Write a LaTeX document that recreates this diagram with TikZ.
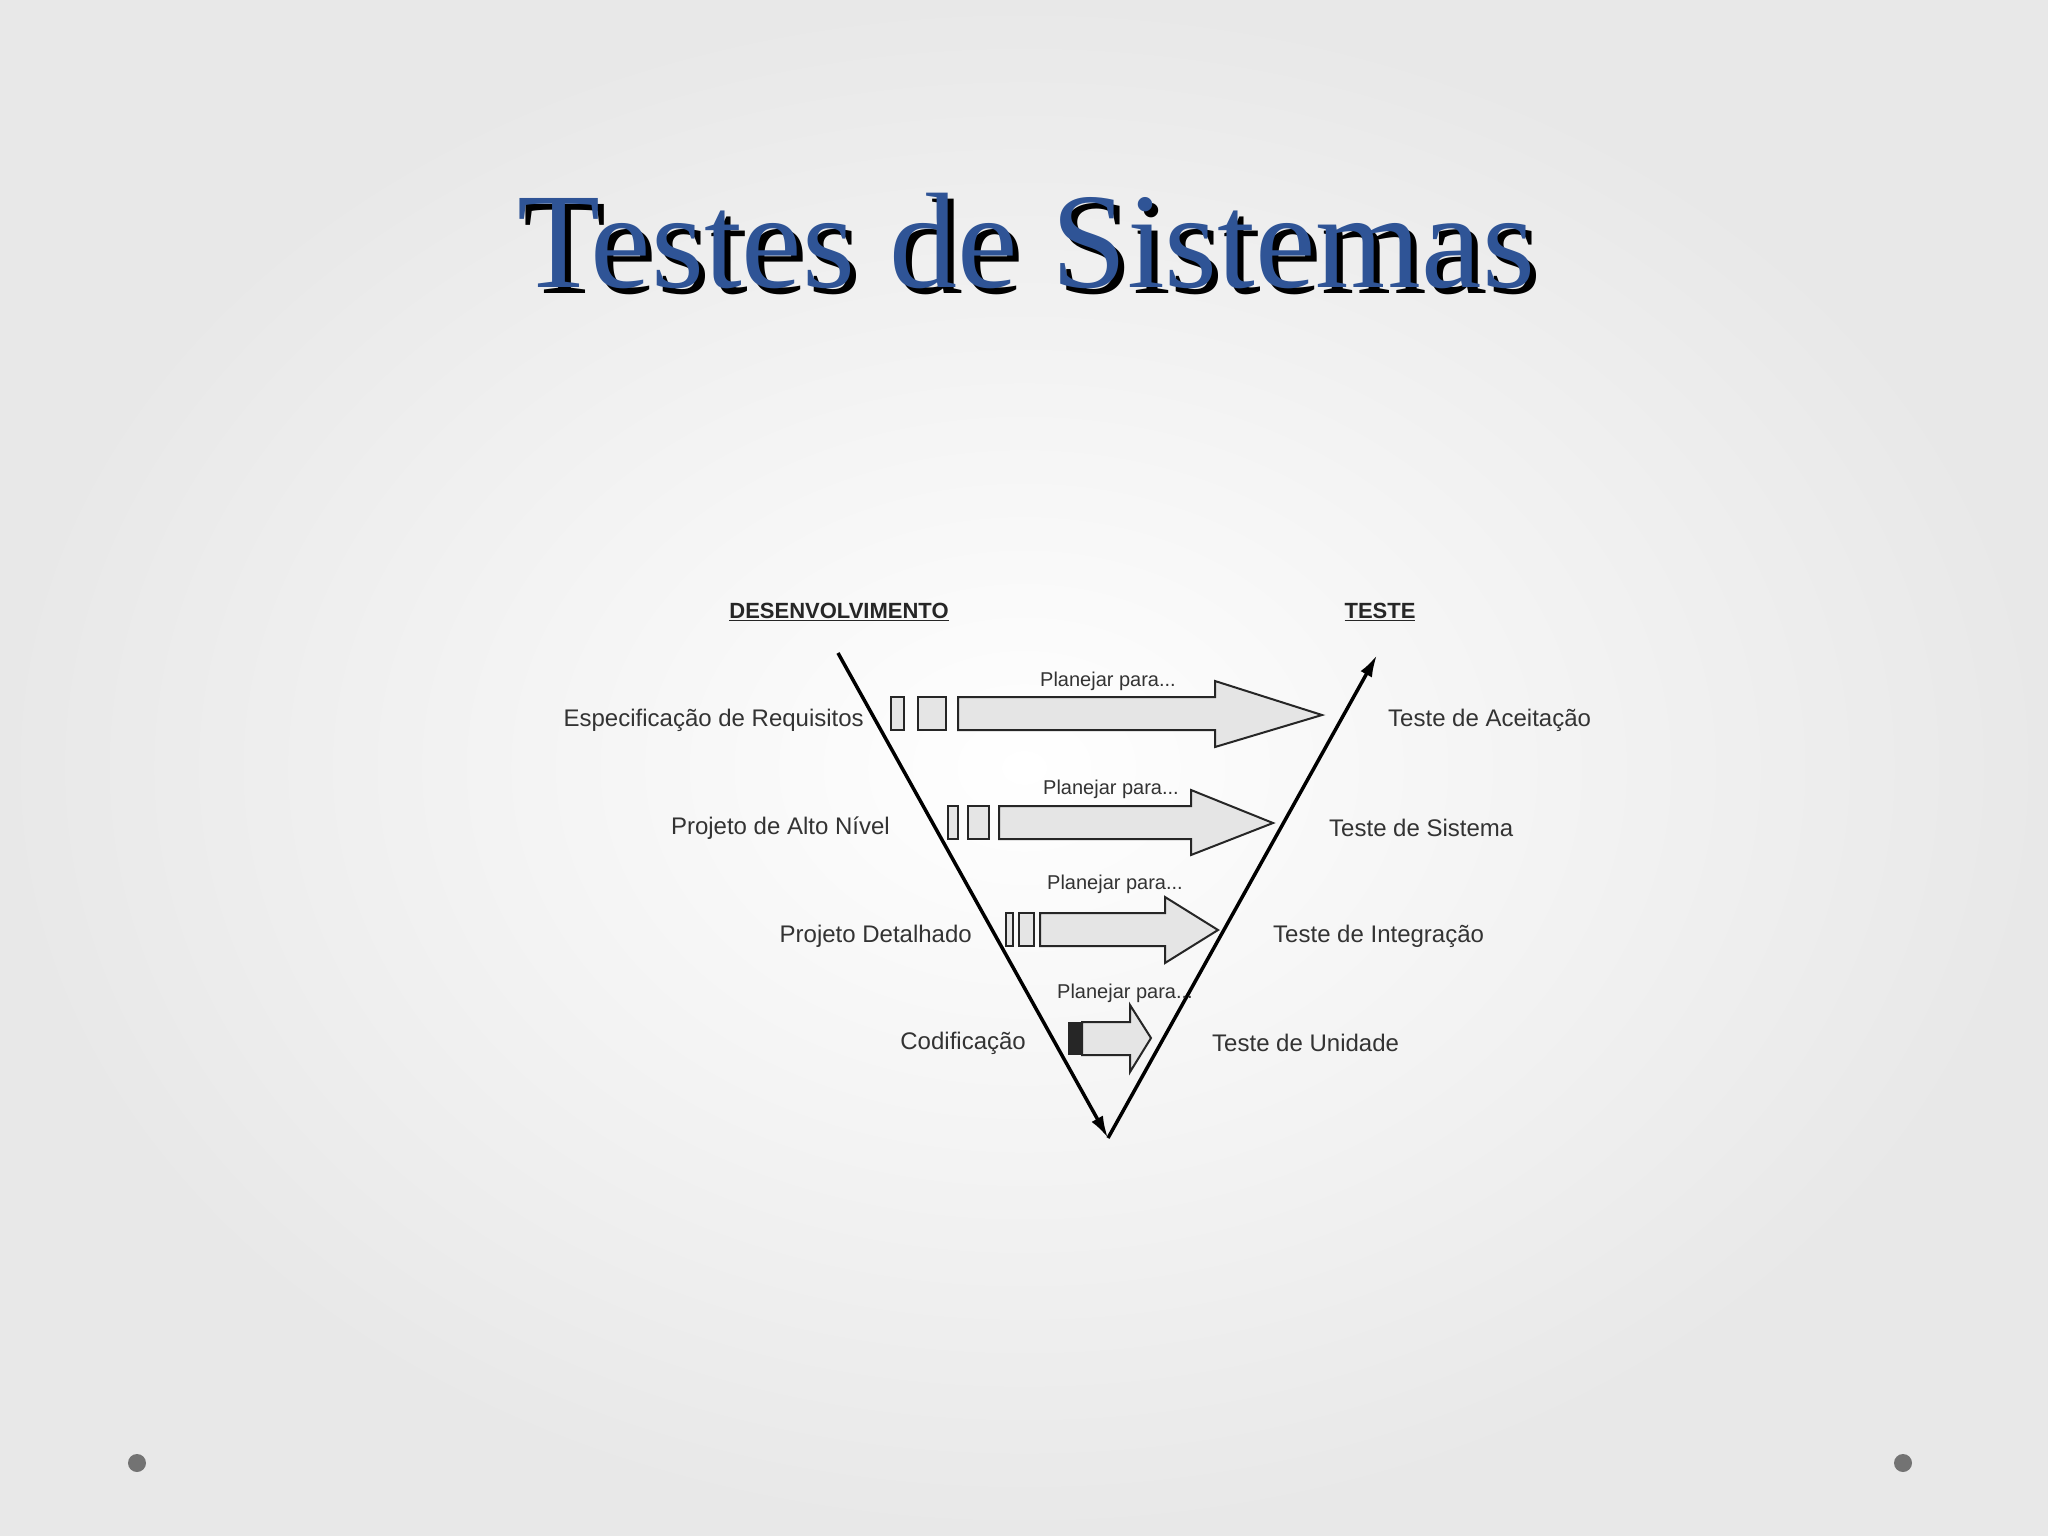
\documentclass[tikz,border=0pt]{standalone}
\usepackage{fontspec}
\setmainfont{Liberation Sans}
\newfontfamily\titlefont{Liberation Serif}
\usetikzlibrary{shadings,arrows.meta}
\begin{document}
\begin{tikzpicture}[x=1pt,y=-1pt,
  lbl/.style={text=black!80,font=\fontsize{24}{26}\selectfont,inner sep=0pt},
  plan/.style={text=black!80,font=\fontsize{20}{22}\selectfont,inner sep=0pt},
  hdr/.style={text=black!85,font=\bfseries\fontsize{22}{24}\selectfont,inner sep=0pt},
  ttl/.style={inner sep=0pt,font=\titlefont\fontsize{136}{140}\selectfont},
  blk/.style={draw=black!85,fill=black!10,line width=2pt},
  vline/.style={line width=3.5pt,-{Latex[length=22pt,width=13pt]}}]
\useasboundingbox (0,0) rectangle (2048,1535);
\shade[inner color=white,outer color=black!9] (0,0) rectangle (2048,1535);
\fill[black!55] (137,1463) circle (9) (1903,1463) circle (9);
% title
\node[ttl,text=black] at (1032,247) {Testes de Sistemas};
\node[ttl,text={rgb,255:red,47;green,84;blue,150}] (title) at (1026,241) {Testes de Sistemas};
% headers
\node[hdr] (dev) at (839,612) {\underline{DESENVOLVIMENTO}};
\node[hdr] (tst) at (1380,612) {\underline{TESTE}};
% V
\coordinate (vtl) at (838,653);
\coordinate (vb) at (1108,1138);
\coordinate (vtr) at (1377,655);
\draw[vline] (vtl) -- (vb);
\draw[vline] (vb) -- (vtr);
% row 1
\draw[blk] (891,697) rectangle (904,730);
\draw[blk] (918,697) rectangle (946,730);
\draw[blk] (958,697) -- (1215,697) -- (1215,681) -- (1322,715) -- (1215,747) -- (1215,730) -- (958,730) -- cycle;
% row 2
\draw[blk] (948,806) rectangle (958,839);
\draw[blk] (968,806) rectangle (989,839);
\draw[blk] (999,806) -- (1191,806) -- (1191,790) -- (1273,823) -- (1191,855) -- (1191,839) -- (999,839) -- cycle;
% row 3
\draw[blk] (1006,913) rectangle (1013,946);
\draw[blk] (1019,913) rectangle (1034,946);
\draw[blk] (1040,913) -- (1165,913) -- (1165,897) -- (1218,930) -- (1165,963) -- (1165,946) -- (1040,946) -- cycle;
% row 4
\fill[black!85] (1068,1022) rectangle (1082,1055);
\draw[blk] (1082,1022) -- (1130,1022) -- (1130,1005) -- (1151,1038) -- (1130,1072) -- (1130,1055) -- (1082,1055) -- cycle;
% plan labels
\node[plan] (p1) at (1108,681) {Planejar para...};
\node[plan] (p2) at (1111,789) {Planejar para...};
\node[plan] (p3) at (1115,884) {Planejar para...};
\node[plan] (p4) at (1125,993) {Planejar para...};
% left labels
\node[lbl,anchor=east] (l1) at (864,720) {Especificação de Requisitos};
\node[lbl,anchor=east] (l2) at (890,828) {Projeto de Alto Nível};
\node[lbl,anchor=east] (l3) at (972,936) {Projeto Detalhado};
\node[lbl,anchor=east] (l4) at (1026,1043) {Codificação};
% right labels
\node[lbl,anchor=west] (r1) at (1388,720) {Teste de Aceitação};
\node[lbl,anchor=west] (r2) at (1329,828) {Teste de Sistema};
\node[lbl,anchor=west] (r3) at (1273,936) {Teste de Integração};
\node[lbl,anchor=west] (r4) at (1212,1043) {Teste de Unidade};
\end{tikzpicture}
\end{document}
